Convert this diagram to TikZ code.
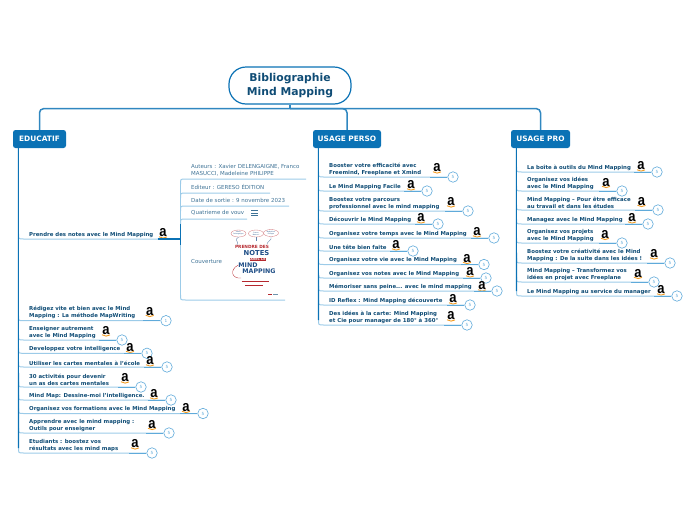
\documentclass[tikz,border=0pt]{standalone}
\usepackage{fontspec}
\setmainfont{DejaVu Sans}
\newfontfamily\amzfont{Liberation Sans}
\usetikzlibrary{calc,shapes.geometric}
\definecolor{mainb}{HTML}{0B72B5}
\definecolor{inkb}{HTML}{0F4C75}
\definecolor{subink}{HTML}{3F7396}
\definecolor{lightb}{HTML}{9CCBE8}
\definecolor{midb}{HTML}{5FAADA}
\definecolor{smilec}{HTML}{F39A1F}
\definecolor{bookred}{HTML}{B5282E}
\definecolor{bookblue}{HTML}{1F4E86}
\tikzset{
  x=1pt,y=-1pt,
  hdr/.style={fill=mainb,rounded corners=2.5pt,text=white,font=\fontsize{7.4}{8}\bfseries,inner sep=0pt,minimum height=18pt},
  rootbox/.style={draw=mainb,line width=1.2pt,fill=white,rounded corners=17pt,text=inkb,font=\fontsize{10.8}{14}\bfseries,align=center,minimum width=122pt,minimum height=37pt,inner sep=0pt},
  itemtext/.style={text=inkb,font=\fontsize{5.4}{7}\bfseries,align=left,inner sep=0pt},
  subtext/.style={text=subink,font=\fontsize{5.5}{7}\selectfont,align=left,inner sep=0pt},
  amz/.style={font=\fontsize{13}{13}\amzfont\bfseries,text=black,inner sep=0pt,yscale=1.15,transform shape},
  smile/.style={draw=smilec,line width=0.9pt},
  badgec/.style={circle,draw=midb,line width=0.6pt,fill=white,minimum size=10.5pt,inner sep=0pt,text=midb,font=\fontsize{4.2}{4.5}\selectfont},
  spine/.style={draw=mainb,line width=1.1pt},
  trunk/.style={draw=mainb!85!white,line width=1.5pt,rounded corners=4pt},
  twig/.style={draw=lightb,line width=1pt},
  twigd/.style={draw=midb,line width=1pt},
  bub/.style={draw=bookred!60!white,line width=0.35pt,fill=white,ellipse,minimum width=15pt,minimum height=7pt,inner sep=0pt,font=\fontsize{1.6}{2}\selectfont,text=bookblue,align=center},
}
% id, spine x, text x, line y, text, amazon x, amazon y, badge x, number
\newcommand{\twigitem}[9]{%
  \node[itemtext,anchor=south west] (#1-t) at (#3,{#4-1.5}) {#5};
  \node[amz] (#1-a) at (#6,#7) {a};
  \draw[smile] ($(#1-a.south)+(-4,-0.6)$) .. controls ($(#1-a.south)+(-1.5,1.2)$) and ($(#1-a.south)+(1.5,1.2)$) .. ($(#1-a.south)+(4,-0.4)$);
  \node[badgec] (#1-b) at (#8,#4) {#9};
  \coordinate (#1-s) at (#2,{#4-5});
  \draw[twig] (#1-s) .. controls (#2,#4) and (#2,#4) .. ({#2+5},#4) -- (#1-b.west);
  \draw[twigd] ([xshift=-17pt]#1-b.west) -- (#1-b.west);
}
% id, line y, line end x, text, text y
\newcommand{\detailitem}[5]{%
  \node[subtext,anchor=west] (#1-t) at (191,#5) {#4};
  \coordinate (#1-e) at (#3,#2);
  \coordinate (#1-s) at (180.5,{#2+5});
  \draw[twig] (#1-s) .. controls (180.5,#2) and (180.5,#2) .. (185.5,#2) -- (#1-e);
}
\begin{document}
\begin{tikzpicture}
\useasboundingbox (0,0) rectangle (697,520);
\node[rootbox] (root) at (290,85.5) {Bibliographie\\Mind Mapping};
\node[hdr,minimum width=53pt] (edu) at (39.5,139) {EDUCATIF};
\node[hdr,minimum width=68pt] (perso) at (347,139) {USAGE PERSO};
\node[hdr,minimum width=59pt] (pro) at (540.5,139) {USAGE PRO};
\coordinate (hub) at (290,108.7);
\draw[trunk] (root.south) -- (hub);
\draw[trunk] (edu.north) |- (hub);
\draw[trunk] (perso.north) |- (hub);
\draw[trunk] (pro.north) |- (hub);

% EDUCATIF
\twigitem{e1}{18.5}{29}{320.7}{Rédigez vite et bien avec le Mind\\Mapping : La méthode MapWriting}{149.7}{311.5}{166}{1}
\twigitem{e2}{18.5}{29}{340}{Enseigner autrement\\avec le Mind Mapping}{106}{331}{122}{5}
\twigitem{e3}{18.5}{29}{353.3}{Developpez votre intelligence}{130}{347.5}{147}{5}
\twigitem{e4}{18.5}{29}{367}{Utiliser les cartes mentales à l'école}{150}{361}{167}{5}
\twigitem{e5}{18.5}{29}{387}{30 activités pour devenir\\un as des cartes mentales}{125}{378}{141}{5}
\twigitem{e6}{18.5}{29}{400}{Mind Map: Dessine-moi l'intelligence.}{154}{394}{171}{5}
\twigitem{e7}{18.5}{29}{413.5}{Organisez vos formations avec le Mind Mapping}{186}{407.5}{203}{5}
\twigitem{e8}{18.5}{29}{433}{Apprendre avec le mind mapping :\\Outils pour enseigner}{152}{424.5}{169}{5}
\twigitem{e9}{18.5}{29}{453}{Etudiants : boostez vos\\résultats avec les mind maps}{135}{444}{152}{5}
% Prendre branch
\node[itemtext,anchor=south west] (pn-t) at (29,237.5) {Prendre des notes avec le Mind Mapping};
\node[amz] (pn-a) at (163,233) {a};
\draw[smile] ($(pn-a.south)+(-4,-0.6)$) .. controls ($(pn-a.south)+(-1.5,1.2)$) and ($(pn-a.south)+(1.5,1.2)$) .. ($(pn-a.south)+(4,-0.4)$);
\coordinate (pn-s) at (18.5,234);
\coordinate (pn-h) at (180.5,239);
\draw[twig] (pn-s) .. controls (18.5,239) and (18.5,239) .. (23.5,239) -- (pn-h);
\draw[spine] ([xshift=-23pt]pn-h) -- (pn-h);
\draw[spine] ([xshift=5.5pt]edu.south west) -- (e9-s);

\detailitem{d1}{179}{306}{Auteurs : Xavier DELENGAIGNE, Franco\\MASUCCI, Madeleine PHILIPPE}{170.5}
\detailitem{d2}{193}{270}{Editeur : GERESO ÉDITION}{187}
\detailitem{d3}{206}{289}{Date de sortie : 9 novembre 2023}{200}
\detailitem{d4}{219}{247}{Quatrieme de vouv}{213}
\node[subtext,anchor=west] (d5-t) at (191,261) {Couverture};
\coordinate (d5-e) at (285,300);
\coordinate (d5-s) at (180.5,295);
\draw[twig] (d5-s) .. controls (180.5,300) and (180.5,300) .. (185.5,300) -- (d5-e);
\draw[twig] (d1-s) -- (d5-s);
\draw[spine] (d4-s) -- (180.5,245);
\draw[line width=0.7pt,draw=subink] (251,210.5) -- (257.5,210.5) (251,213) -- (257.5,213) (251,215.5) -- (257.5,215.5);

% book cover
\node[bub] (b1) at (238.5,233.5) {Xavier\\Delengaigne};
\node[bub] (b2) at (256,233.5) {Franco\\Masucci};
\node[bub] (b3) at (271,233) {Madeleine\\Philippe};
\draw[bookblue!70!white,line width=0.35pt] (b1.south) .. controls (233,241) and (240,241) .. (237,245);
\draw[bookblue!70!white,line width=0.35pt] (b2.south) -- (256,241);
\draw[bookblue!70!white,line width=0.35pt] (b3.south) .. controls (272,241) and (268,240) .. (267,244);
\node[inner sep=0pt,text=bookred,font=\fontsize{4.3}{5}\bfseries] (c1) at (252,246.8) {PRENDRE DES};
\node[inner sep=0pt,text=bookblue,font=\fontsize{6.8}{7}\bfseries] (c2) at (256.5,253.3) {NOTES};
\node[inner sep=0.4pt,fill=bookred,text=white,font=\fontsize{3.3}{4}\bfseries] (c3) at (258,259.3) {AVEC LE};
\node[inner sep=0pt,text=bookblue,font=\fontsize{6.3}{7}\bfseries] (c4) at (248,265) {MIND};
\node[inner sep=0pt,text=bookblue,font=\fontsize{6.3}{7}\bfseries] (c5) at (259,271.5) {MAPPING};
\draw[bookred,line width=0.35pt] (c4.west) .. controls (229,270) and (232,279) .. (241,278);
\draw[bookred,line width=0.35pt] (241.5,281.5) -- (269,281.5) (245,285.5) -- (263,285.5);
\draw[bookred,line width=0.8pt] (268,294) -- (272,294);
\draw[inkb!60!white,line width=0.5pt] (273,294) -- (278,294);

% USAGE PERSO
\twigitem{p1}{318.5}{329}{177}{Booster votre efficacité avec\\Freemind, Freeplane et Xmind}{437}{168}{453}{5}
\twigitem{p2}{318.5}{329}{191}{Le Mind Mapping Facile}{411}{185}{427}{5}
\twigitem{p3}{318.5}{329}{211}{Boostez votre parcours\\professionnel avec le mind mapping}{451}{202}{468}{5}
\twigitem{p4}{318.5}{329}{224}{Découvrir le Mind Mapping}{421}{218}{438}{5}
\twigitem{p5}{318.5}{329}{238}{Organisez votre temps avec le Mind Mapping}{477}{232}{494}{5}
\twigitem{p6}{318.5}{329}{251}{Une tête bien faite}{396}{245}{413}{5}
\twigitem{p7}{318.5}{329}{264.5}{Organisez votre vie avec le Mind Mapping}{467}{258.5}{484}{5}
\twigitem{p8}{318.5}{329}{278}{Organisez vos notes avec le Mind Mapping}{470}{272}{486}{5}
\twigitem{p9}{318.5}{329}{291}{Mémoriser sans peine... avec le mind mapping}{482}{286}{497}{5}
\twigitem{p10}{318.5}{329}{305}{ID Reflex : Mind Mapping découverte}{453}{299}{470}{5}
\twigitem{p11}{318.5}{329}{325}{Des idées à la carte: Mind Mapping\\et Cie pour manager de 180° à 360°}{451}{316}{467}{5}
\draw[spine] ([xshift=5.5pt]perso.south west) -- (p11-s);

% USAGE PRO
\twigitem{r1}{516.5}{527}{172}{La boîte à outils du Mind Mapping}{641}{166}{657}{5}
\twigitem{r2}{516.5}{527}{191}{Organisez vos idées\\avec le Mind Mapping}{606}{182.5}{622}{5}
\twigitem{r3}{516.5}{527}{210}{Mind Mapping – Pour être efficace\\au travail et dans les études}{641.5}{201.5}{658}{5}
\twigitem{r4}{516.5}{527}{224}{Managez avec le Mind Mapping}{632}{218}{648}{5}
\twigitem{r5}{516.5}{527}{243}{Organisez vos projets\\avec le Mind Mapping}{605}{234.5}{622}{5}
\twigitem{r6}{516.5}{527}{263}{Boostez votre créativité avec le Mind\\Mapping : De la suite dans les idées !}{654}{254}{670}{5}
\twigitem{r7}{516.5}{527}{282}{Mind Mapping – Transformez vos\\idées en projet avec Freeplane}{638}{273.5}{654}{5}
\twigitem{r8}{516.5}{527}{296}{Le Mind Mapping au service du manager}{661}{290}{677}{5}
\draw[spine] ([xshift=5.5pt]pro.south west) -- (r8-s);
\end{tikzpicture}
\end{document}
